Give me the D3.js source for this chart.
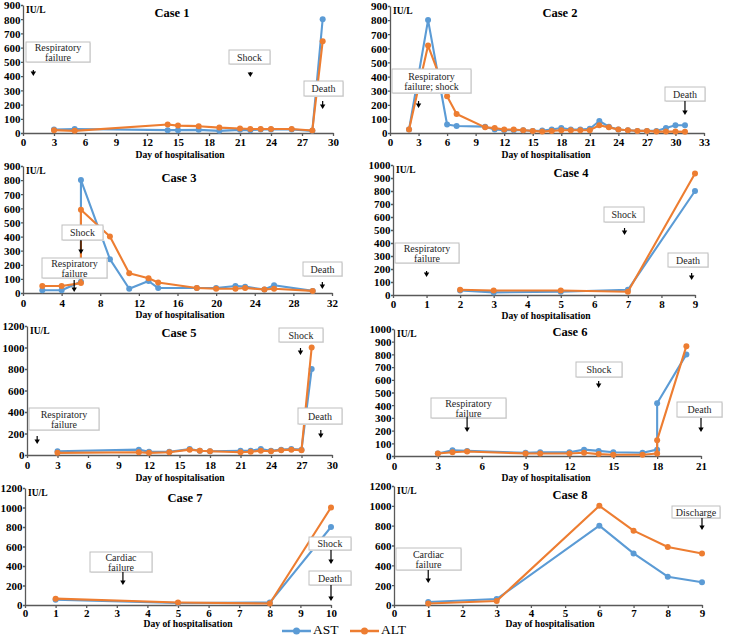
<!DOCTYPE html>
<html><head><meta charset="utf-8">
<script src="https://cdn.jsdelivr.net/npm/d3@7"></script>
<style>body{margin:0;background:#fff}</style>
</head><body>
<svg id="c" width="729" height="637"></svg>
<script>
// ---------- DATA ----------
const case1Days=[3,5,14,15,17,19,21,22,23,24,26,28,29];
const case1AST =[25,28,20,20,22,15,22,20,25,25,25,15,800];
const case1ALT =[20,15,60,52,48,38,32,28,28,28,28,18,645];
const case1XTicks=[0,3,6,9,12,15,18,21,24,27,30];
const case1YTicks=[0,100,200,300,400,500,600,700,800,900];

const case2Days=[2,4,6,7,10,11,12,13,14,15,16,17,18,19,20,21,22,23,24,25,26,27,28,29,30,31];
const case2AST =[25,800,60,50,45,25,20,20,20,15,18,25,35,25,25,30,85,45,25,20,15,15,15,35,55,55];
const case2ALT =[25,620,260,135,40,35,25,25,20,15,10,15,20,20,20,20,55,40,25,20,15,15,10,10,10,8];
const case2XTicks=[0,3,6,9,12,15,18,21,24,27,30,33];
const case2YTicks=[0,100,200,300,400,500,600,700,800,900];

const case3Days=[2,4,6,6,9,11,13,14,18,20,22,23,25,26,30];
const case3AST =[20,20,80,800,240,30,85,35,35,35,50,45,25,55,15];
const case3ALT =[50,50,70,590,400,140,105,75,35,30,30,35,25,30,15];
const case3XTicks=[0,4,8,12,16,20,24,28,32];
const case3YTicks=[0,100,200,300,400,500,600,700,800,900];

const case4Days=[2,3,5,7,9];
const case4AST =[35,20,25,40,800];
const case4ALT =[40,35,35,25,935];
const case4XTicks=[0,1,2,3,4,5,6,7,8,9];
const case4YTicks=[0,100,200,300,400,500,600,700,800,900,1000];

const case5Days=[3,11,12,14,16,17,18,21,22,23,24,25,26,27,28];
const case5AST =[35,50,30,30,55,40,35,40,40,55,40,50,55,50,800];
const case5ALT =[20,25,20,25,50,40,35,25,30,40,35,45,50,45,1000];
const case5XTicks=[0,3,6,9,12,15,18,21,24,27,30];
const case5YTicks=[0,200,400,600,800,1000,1200];

const case6Days=[3,4,5,9,10,12,13,14,15,17,18,18,20];
const case6AST =[20,45,40,25,30,30,50,40,30,25,50,415,800];
const case6ALT =[20,30,35,20,20,20,25,15,10,10,20,125,865];
const case6XTicks=[0,3,6,9,12,15,18,21];
const case6YTicks=[0,100,200,300,400,500,600,700,800,900,1000];

const case7Days=[1,5,8,10];
const case7AST =[55,20,25,800];
const case7ALT =[65,25,15,1000];
const case7XTicks=[0,1,2,3,4,5,6,7,8,9,10];
const case7YTicks=[0,200,400,600,800,1000,1200];

const case8Days=[1,3,6,7,8,9];
const case8AST =[30,60,800,520,285,230];
const case8ALT =[15,40,1000,750,585,520];
const case8XTicks=[0,1,2,3,4,5,6,7,8,9];
const case8YTicks=[0,200,400,600,800,1000,1200];

const caseTitles=["Case 1","Case 2","Case 3","Case 4","Case 5","Case 6","Case 7","Case 8"];
const seriesNames=["AST","ALT"];
const xAxisTitle="Day of hospitalisation";
const yUnit="IU/L";

// event annotations: text lines + day at which the arrow points
const case1Events=[{t:["Respiratory","failure"],day:1},{t:["Shock"],day:22},{t:["Death"],day:29}];
const case2Events=[{t:["Respiratory","failure; shock"],day:3},{t:["Death"],day:31}];
const case3Events=[{t:["Shock"],day:6},{t:["Respiratory","failure"],day:5.3},{t:["Death"],day:31}];
const case4Events=[{t:["Shock"],day:6.9},{t:["Respiratory","failure"],day:1},{t:["Death"],day:8.9}];
const case5Events=[{t:["Shock"],day:26.9},{t:["Respiratory","failure"],day:1},{t:["Death"],day:28.9}];
const case6Events=[{t:["Shock"],day:14},{t:["Respiratory","failure"],day:5},{t:["Death"],day:21}];
const case7Events=[{t:["Cardiac","failure"],day:3.2},{t:["Shock"],day:10},{t:["Death"],day:10}];
const case8Events=[{t:["Cardiac","failure"],day:1},{t:["Discharge"],day:9}];

// ---------- LAYOUT (pixels) ----------
const layout=[
 {x0:23,x1:333,yb:133,yt:5,  tp:2.5, tx:172,ty:17, lx:180,ly:158,
  boxes:[[26,42,64,20],[229,50,41,14],[304,81,39,15]], arrows:[[70,76],[72,77],[101,109]]},
 {x0:390,x1:704,yb:133,yt:6, tp:2.5, tx:560,ty:17, lx:546,ly:158,
  boxes:[[392,69,79,24],[665,87,40,14]], arrows:[[101,108],[101,115]]},
 {x0:23,x1:332,yb:293,yt:166, tp:3, tx:179,ty:182, lx:180,ly:318,
  boxes:[[62,225,41,15],[42,258,65,20],[303,262,39,14]], arrows:[[240,254],[280,292],[282,289]]},
 {x0:393,x1:695,yb:295,yt:165, tp:2.5, tx:571,ty:177, lx:546,ly:319,
  boxes:[[604,207,40,15],[395,243,64,20],[668,253,40,14]], arrows:[[228,235],[271,277],[273,280]]},
 {x0:27,x1:332,yb:455,yt:326, tp:3, tx:179,ty:337, lx:180,ly:481,
  boxes:[[279,328,44,14],[29,408,70,22],[298,408,44,16]], arrows:[[348,355],[436,444],[430,438]]},
 {x0:394,x1:701,yb:456,yt:329, tp:3, tx:570,ty:336, lx:546,ly:481,
  boxes:[[576,362,46,15],[431,398,75,20],[677,402,45,15]], arrows:[[381,388],[417,432],[418,432]]},
 {x0:25,x1:331,yb:605,yt:488, tp:1.5, tx:185,ty:502, lx:188,ly:627,
  boxes:[[90,552,62,20],[309,537,42,13],[309,571,42,14]], arrows:[[572,585],[550,564],[585,601]]},
 {x0:394,x1:702,yb:605,yt:486, tp:1.5, tx:570,ty:499, lx:550,ly:627,
  boxes:[[396,548,65,22],[672,506,48,12]], arrows:[[570,583],[518,530]]}
];

const cases=[
 [case1Days,case1AST,case1ALT,case1XTicks,case1YTicks,case1Events],
 [case2Days,case2AST,case2ALT,case2XTicks,case2YTicks,case2Events],
 [case3Days,case3AST,case3ALT,case3XTicks,case3YTicks,case3Events],
 [case4Days,case4AST,case4ALT,case4XTicks,case4YTicks,case4Events],
 [case5Days,case5AST,case5ALT,case5XTicks,case5YTicks,case5Events],
 [case6Days,case6AST,case6ALT,case6XTicks,case6YTicks,case6Events],
 [case7Days,case7AST,case7ALT,case7XTicks,case7YTicks,case7Events],
 [case8Days,case8AST,case8ALT,case8XTicks,case8YTicks,case8Events]
];

const colors={AST:"#5b9bd5",ALT:"#ed7d31"};
const FONT="Liberation Serif, Times New Roman, serif";
const svg=d3.select("#c");

cases.forEach((c,i)=>{
  const [days,ast,alt,xt,yt,events]=c;
  const L=layout[i];
  const g=svg.append("g");
  const x=d3.scaleLinear().domain([xt[0],xt[xt.length-1]]).range([L.x0,L.x1]);
  const y=d3.scaleLinear().domain([yt[0],yt[yt.length-1]]).range([L.yb,L.yt]);

  const xa=g.append("g").attr("transform",`translate(0,${L.yb})`)
    .call(d3.axisBottom(x).tickValues(xt).tickSize(3).tickSizeOuter(0).tickPadding(L.tp).tickFormat(d3.format("d")));
  const ya=g.append("g").attr("transform",`translate(${L.x0},0)`)
    .call(d3.axisLeft(y).tickValues(yt).tickSize(2).tickSizeOuter(0).tickPadding(0.5).tickFormat(d3.format("d")));
  [xa,ya].forEach(a=>{
    a.attr("font-family",FONT);
    a.selectAll("path,line").attr("stroke","#595959").attr("stroke-width",1.3);
    a.selectAll("text").attr("font-family",FONT).attr("font-weight","bold").attr("font-size",11).attr("fill","#000");
  });
  ya.selectAll("text").attr("dy","0.35em");

  // series (ALT drawn over AST)
  [[ast,"AST"],[alt,"ALT"]].forEach(([vals,name])=>{
    const pts=days.map((d,k)=>[d,vals[k]]);
    g.append("path").datum(pts).attr("fill","none").attr("stroke",colors[name]).attr("stroke-width",2.1)
      .attr("stroke-linejoin","round")
      .attr("d",d3.line().x(p=>x(p[0])).y(p=>y(p[1])));
    g.selectAll(null).data(pts).enter().append("circle")
      .attr("cx",p=>x(p[0])).attr("cy",p=>y(p[1])).attr("r",3).attr("fill",colors[name]);
  });

  // annotations (boxes over the lines)
  events.forEach((e,k)=>{
    const b=L.boxes[k], ar=L.arrows[k];
    g.append("rect").attr("x",b[0]+1).attr("y",b[1]+1).attr("width",b[2]).attr("height",b[3])
      .attr("fill","#e6e6e6");
    g.append("rect").attr("x",b[0]).attr("y",b[1]).attr("width",b[2]).attr("height",b[3])
      .attr("fill","#fff").attr("stroke","#bfbfbf").attr("stroke-width",1);
    const n=e.t.length, cx=b[0]+b[2]/2, cy=b[1]+b[3]/2;
    e.t.forEach((s,j)=>{
      g.append("text").attr("x",cx).attr("y",cy+(j-(n-1)/2)*10+3.5)
        .attr("text-anchor","middle").attr("font-family",FONT).attr("font-size",10).attr("fill","#262626").text(s);
    });
    const ax=x(e.day);
    g.append("line").attr("x1",ax).attr("x2",ax).attr("y1",ar[0]).attr("y2",ar[1]-3).attr("stroke","#000").attr("stroke-width",1.2);
    g.append("path").attr("d",`M${ax-2.7},${ar[1]-4.5}L${ax+2.7},${ar[1]-4.5}L${ax},${ar[1]}Z`).attr("fill","#000");
  });

  g.append("text").attr("x",L.tx).attr("y",L.ty).attr("text-anchor","middle")
    .attr("font-family",FONT).attr("font-weight","bold").attr("font-size",12.5).text(caseTitles[i]);
  g.append("text").attr("x",L.x0+3).attr("y",L.yt+7.5)
    .attr("font-family",FONT).attr("font-weight","bold").attr("font-size",9.5).text(yUnit);
  g.append("text").attr("x",L.lx).attr("y",L.ly).attr("text-anchor","middle")
    .attr("font-family",FONT).attr("font-weight","bold").attr("font-size",9.6).text(xAxisTitle);
});

// legend
const leg=[{n:seriesNames[0],x:282},{n:seriesNames[1],x:350}];
leg.forEach(l=>{
  svg.append("line").attr("x1",l.x).attr("x2",l.x+29).attr("y1",631).attr("y2",631)
    .attr("stroke",colors[l.n]).attr("stroke-width",2.5);
  svg.append("circle").attr("cx",l.x+14.5).attr("cy",631).attr("r",3.5).attr("fill",colors[l.n]);
  svg.append("text").attr("x",l.x+31).attr("y",634).attr("font-family",FONT).attr("font-size",13.5).text(l.n);
});
</script>
</body></html>
